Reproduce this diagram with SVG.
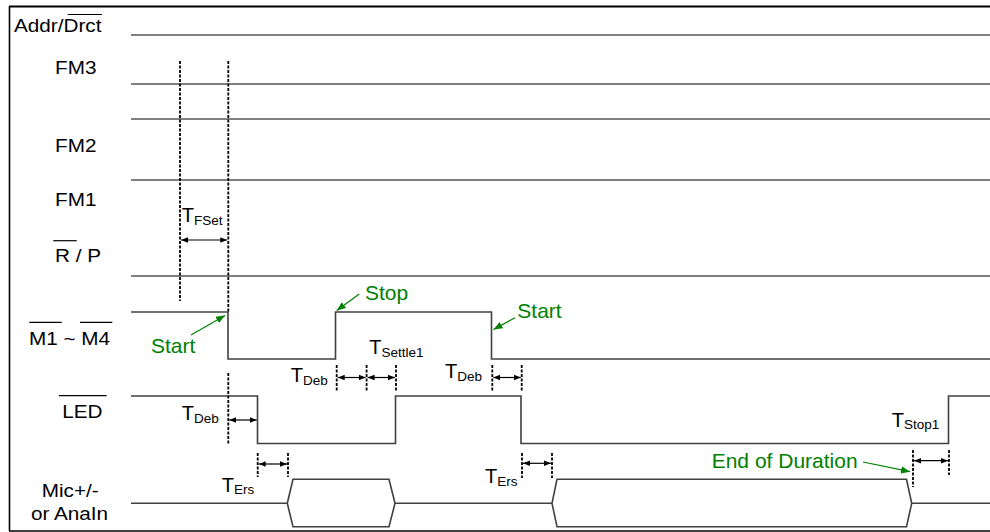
<svg xmlns="http://www.w3.org/2000/svg" width="990" height="532" viewBox="0 0 990 532">
<style>
.lbl{font-family:"Liberation Sans",Arial,sans-serif;font-size:18.5px;fill:#000}
.t{font-family:"Liberation Sans",Arial,sans-serif;font-size:20px;fill:#000}
.s{font-size:13.5px}
.g{font-family:"Liberation Sans",Arial,sans-serif;font-size:21px;fill:#008000}
.ov{stroke:#000;stroke-width:1.2}
.static{stroke:#808080;stroke-width:2;fill:none}
.wave{stroke:#404040;stroke-width:1.6;fill:none}
.dash{stroke:#000;stroke-width:1.8;stroke-dasharray:3 1.5;fill:none}
.dim{stroke:#000;stroke-width:1.2;fill:none;marker-start:url(#ah);marker-end:url(#ah)}
.garr{stroke:#008000;stroke-width:1.2;fill:none;marker-end:url(#gh)}
</style>
<defs>
<marker id="ah" viewBox="0 0 10 10" refX="10" refY="5" markerWidth="7" markerHeight="7" markerUnits="userSpaceOnUse" orient="auto-start-reverse">
<path d="M0,1 L10,5 L0,9 Z" fill="#000"/>
</marker>
<marker id="gh" viewBox="0 0 10 10" refX="10" refY="5" markerWidth="9" markerHeight="9" markerUnits="userSpaceOnUse" orient="auto">
<path d="M0,1 L10,5 L0,9 Z" fill="#008000"/>
</marker>
</defs>
<rect x="0" y="0" width="990" height="532" fill="#fff"/>
<g id="frame" fill="none" stroke="#000">
<line x1="9.5" y1="6" x2="9.5" y2="531" stroke-width="1.6"/>
<line x1="9" y1="6.5" x2="990" y2="6.5" stroke-width="2"/>
<line x1="9" y1="531" x2="990" y2="531" stroke-width="1.6"/>
</g>
<g id="sig-addr">
<text class="lbl" transform="translate(14,32.3) scale(1.12,1)">Addr/Drct</text>
<line class="ov" x1="67.7" y1="14.5" x2="102" y2="14.5"/>
<line class="static" x1="131" y1="35" x2="990" y2="35"/>
</g>
<g id="sig-fm3">
<text class="lbl" transform="translate(55,74) scale(1.12,1)">FM3</text>
<line class="static" x1="131" y1="84" x2="990" y2="84"/>
<line class="static" x1="131" y1="119" x2="990" y2="119"/>
</g>
<g id="sig-fm2">
<text class="lbl" transform="translate(55,151.7) scale(1.12,1)">FM2</text>
<line class="static" x1="131" y1="180" x2="990" y2="180"/>
</g>
<g id="sig-fm1">
<text class="lbl" transform="translate(55,206) scale(1.12,1)">FM1</text>
</g>
<g id="sig-rp">
<text class="lbl" transform="translate(55,261.7) scale(1.12,1)">R / P</text>
<line class="ov" x1="53.3" y1="240.7" x2="76.7" y2="240.7"/>
<line class="static" x1="131" y1="276" x2="990" y2="276"/>
</g>
<g id="sig-m">
<text class="lbl" transform="translate(29,345) scale(1.12,1)">M1 ~ M4</text>
<line class="ov" x1="29.3" y1="322.3" x2="61.7" y2="322.3"/>
<line class="ov" x1="80" y1="322.3" x2="112.3" y2="322.3"/>
<polyline class="wave" points="131,312 228,312 228,359 335.5,359 335.5,312 491.5,312 491.5,359 990,359"/>
</g>
<g id="sig-led">
<text class="lbl" transform="translate(62.3,417.7) scale(1.12,1)">LED</text>
<line class="ov" x1="59" y1="395.7" x2="106.7" y2="395.7"/>
<polyline class="wave" points="131,396 257.5,396 257.5,443.5 395.5,443.5 395.5,396 521,396 521,443.5 948.5,443.5 948.5,396 990,396"/>
</g>
<g id="sig-mic">
<text class="lbl" transform="translate(41.7,496.7) scale(1.12,1)">Mic+/-</text>
<text class="lbl" transform="translate(31,520) scale(1.12,1)">or AnaIn</text>
<polyline class="wave" points="131,503.3 287.3,503.3"/>
<polygon class="wave" points="287.3,503.3 293,479.3 389,479.3 395,503.3 389,526.7 293,526.7"/>
<polyline class="wave" points="395,503.3 552,503.3"/>
<polygon class="wave" points="552,503.3 557,479.3 906.5,479.3 911.7,503.3 906.5,526.7 557,526.7"/>
<polyline class="wave" points="911.7,503.3 990,503.3"/>
</g>
<g id="markers">
<line class="dash" x1="180" y1="61" x2="180" y2="301"/>
<line class="dash" x1="228.3" y1="61" x2="228.3" y2="312"/>
<line class="dash" x1="228.3" y1="373" x2="228.3" y2="445"/>
<line class="dash" x1="257.7" y1="453" x2="257.7" y2="477"/>
<line class="dash" x1="288" y1="453" x2="288" y2="477"/>
<line class="dash" x1="336.7" y1="365" x2="336.7" y2="391"/>
<line class="dash" x1="366.6" y1="365" x2="366.6" y2="391"/>
<line class="dash" x1="396" y1="365" x2="396" y2="391"/>
<line class="dash" x1="492.3" y1="365" x2="492.3" y2="391"/>
<line class="dash" x1="521.7" y1="365" x2="521.7" y2="391"/>
<line class="dash" x1="522" y1="453" x2="522" y2="478"/>
<line class="dash" x1="552" y1="453" x2="552" y2="478"/>
<line class="dash" x1="913" y1="450" x2="913" y2="487"/>
<line class="dash" x1="949" y1="450" x2="949" y2="475"/>
</g>
<g id="labels">
<text class="t" x="181.7" y="221.7">T<tspan class="s" dy="3.3">FSet</tspan></text>
<text class="t" x="181.7" y="420">T<tspan class="s" dy="3">Deb</tspan></text>
<text class="t" x="290.7" y="381.7">T<tspan class="s" dy="3">Deb</tspan></text>
<text class="t" x="369.3" y="354.3">T<tspan class="s" dy="3">Settle1</tspan></text>
<text class="t" x="445" y="378.3">T<tspan class="s" dy="3">Deb</tspan></text>
<text class="t" x="221.7" y="491.7">T<tspan class="s" dy="2.5">Ers</tspan></text>
<text class="t" x="485" y="483.3">T<tspan class="s" dy="2.5">Ers</tspan></text>
<text class="t" x="891.7" y="426.7">T<tspan class="s" dy="2.5">Stop1</tspan></text>
<text class="g" x="151" y="353">Start</text>
<text class="g" x="365" y="300">Stop</text>
<text class="g" x="517.3" y="317.7">Start</text>
<text class="g" x="711.7" y="468">End of Duration</text>
</g>
<g id="connectors">
<line class="dim" x1="181" y1="240" x2="227.3" y2="240"/>
<line class="dim" x1="229.3" y1="420" x2="256.7" y2="420"/>
<line class="dim" x1="258.7" y1="464" x2="287" y2="464"/>
<line class="dim" x1="337.7" y1="377.5" x2="365.6" y2="377.5"/>
<line class="dim" x1="367.6" y1="377.5" x2="395" y2="377.5"/>
<line class="dim" x1="493.3" y1="377.5" x2="520.7" y2="377.5"/>
<line class="dim" x1="523" y1="463.3" x2="551" y2="463.3"/>
<line class="dim" x1="914" y1="460.7" x2="948" y2="460.7"/>
<line class="garr" x1="191" y1="335" x2="225" y2="315.5"/>
<line class="garr" x1="359.3" y1="294" x2="336.7" y2="310.5"/>
<line class="garr" x1="515" y1="317.7" x2="493.5" y2="329.5"/>
<line class="garr" x1="863" y1="462" x2="910" y2="471.7"/>
</g>
</svg>
